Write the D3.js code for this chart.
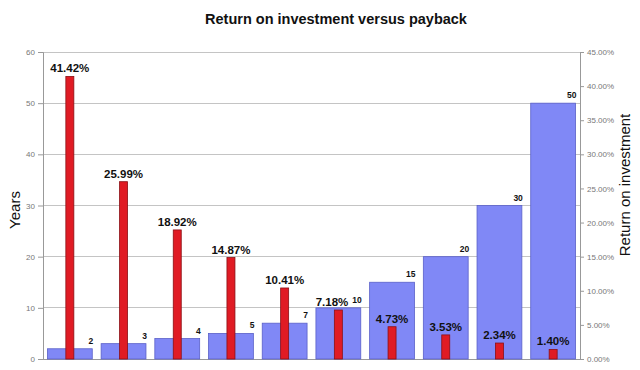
<!DOCTYPE html>
<html><head><meta charset="utf-8">
<script src="https://cdn.jsdelivr.net/npm/d3@7"></script>
<style>body{margin:0;background:#fff;} svg{display:block;font-family:"Liberation Sans",Arial,sans-serif;}</style>
</head><body>
<script>
const categories = ["A","B","C","D","E","F","G","H","I","J"];
const paybackYears = [2,3,4,5,7,10,15,20,30,50];
const roi = [0.4142,0.2599,0.1892,0.1487,0.1041,0.0718,0.0473,0.0353,0.0234,0.0140];
const roiLabels = ["41.42%","25.99%","18.92%","14.87%","10.41%","7.18%","4.73%","3.53%","2.34%","1.40%"];
const yearTicks = [0,10,20,30,40,50,60];
const roiTicks = [0,0.05,0.10,0.15,0.20,0.25,0.30,0.35,0.40,0.45];

const W=640,H=370, L=43, R=580, T=52, B=359;
const svg=d3.select("body").append("svg").attr("width",W).attr("height",H);

const x=d3.scaleBand().domain(categories).range([L,R]).paddingInner(0.165).paddingOuter(0.0825);
const yL=d3.scaleLinear().domain([0,60]).range([B,T]);
const yR=d3.scaleLinear().domain([0,0.45]).range([B,T]);

// gridlines
svg.append("g").selectAll("line").data(yearTicks.filter(d=>d>0)).join("line")
  .attr("x1",L).attr("x2",R).attr("y1",d=>yL(d)).attr("y2",d=>yL(d))
  .attr("stroke","#c4c4c4").attr("stroke-width",1).attr("shape-rendering","crispEdges");

// axes
const axL=svg.append("g").attr("transform",`translate(${L},0)`)
  .call(d3.axisLeft(yL).tickValues(yearTicks).tickSize(5).tickPadding(3).tickFormat(d3.format("d")));
const axR=svg.append("g").attr("transform",`translate(${R},0)`)
  .call(d3.axisRight(yR).tickValues(roiTicks).tickSize(4).tickPadding(3).tickFormat(d3.format(".2%")));
[axL,axR].forEach(a=>{
  a.select(".domain").attr("stroke","#999");
  a.selectAll(".tick line").attr("stroke","#999");
  a.selectAll(".tick text").attr("fill","#777").attr("font-size",8).attr("font-family","Liberation Sans, Arial, sans-serif");
});
svg.append("line").attr("x1",L).attr("x2",R).attr("y1",B).attr("y2",B).attr("stroke","#999").attr("shape-rendering","crispEdges");

// blue bars (years)
svg.append("g").selectAll("rect").data(categories).join("rect")
  .attr("x",c=>x(c)).attr("width",x.bandwidth())
  .attr("y",(c,i)=>yL(paybackYears[i])).attr("height",(c,i)=>B-yL(paybackYears[i]))
  .attr("fill","#8088f6").attr("stroke","#5a60c8").attr("stroke-width",0.8);

// red bars (ROI)
const rw=8;
svg.append("g").selectAll("rect").data(categories).join("rect")
  .attr("x",c=>x(c)+x.bandwidth()/2-rw/2).attr("width",rw)
  .attr("y",(c,i)=>yR(roi[i])).attr("height",(c,i)=>B-yR(roi[i]))
  .attr("fill","#e01b24").attr("stroke","#8a1015").attr("stroke-width",0.8);

// blue labels
const blueLbl=svg.append("g").selectAll("text").data(categories).join("text")
  .attr("x",c=>x(c)+x.bandwidth()+1).attr("y",(c,i)=>yL(paybackYears[i])-5)
  .attr("text-anchor","end").attr("font-size",8.5).attr("font-weight","bold").attr("fill","#111")
  .text((c,i)=>paybackYears[i]);

// red labels
const redLbl=svg.append("g").selectAll("text").data(categories).join("text")
  .attr("x",c=>x(c)+x.bandwidth()/2).attr("y",(c,i)=>yR(roi[i])-4)
  .attr("text-anchor","middle").attr("font-size",11.5).attr("font-weight","bold").attr("fill","#111")
  .text((c,i)=>roiLabels[i]);

// nudge red labels left if they collide with the blue label of the same group
const bNodes=blueLbl.nodes();
redLbl.each(function(c,i){
  const rb=this.getBBox(), bb=bNodes[i].getBBox();
  const vOver = rb.y < bb.y+bb.height && bb.y < rb.y+rb.height;
  const over = rb.x+rb.width - (bb.x-4);
  if(vOver && over>0){ d3.select(this).attr("x", +d3.select(this).attr("x")-over); }
});

// title
svg.append("text").attr("x",336).attr("y",24).attr("text-anchor","middle")
  .attr("font-size",14.5).attr("font-weight","bold").attr("fill","#111").text("Return on investment versus payback");

// axis titles
svg.append("text").attr("transform","translate(20,210) rotate(-90)").attr("text-anchor","middle")
  .attr("font-size",15).attr("fill","#111").text("Years");
svg.append("text").attr("transform","translate(630,185) rotate(-90)").attr("text-anchor","middle")
  .attr("font-size",15).attr("fill","#111").text("Return on investment");
</script>
</body></html>
